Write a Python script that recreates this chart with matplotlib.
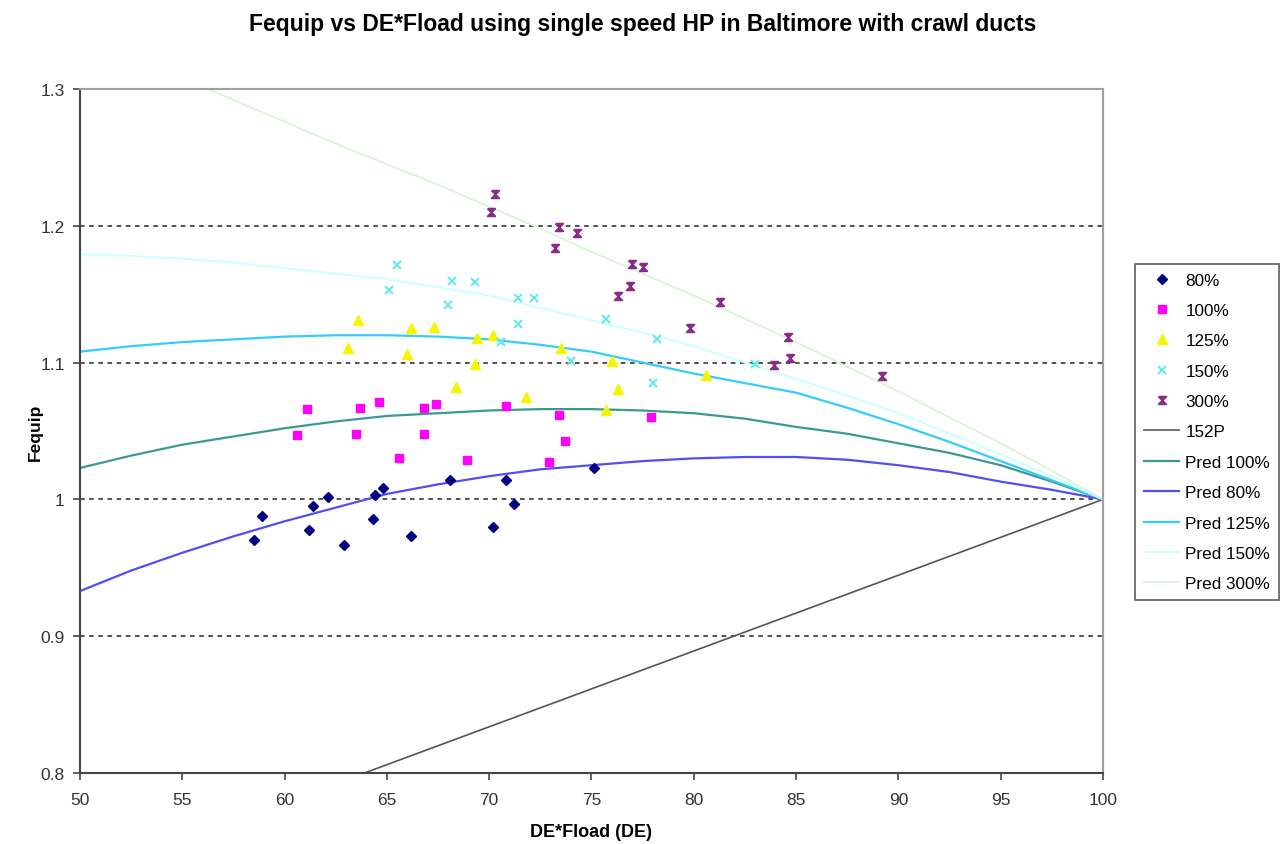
import numpy as np
import matplotlib
matplotlib.use("Agg")
import matplotlib.pyplot as plt
from matplotlib.path import Path

plt.rcParams['font.family'] = ['Liberation Sans', 'DejaVu Sans']

# ---------- measured points ----------
de_80 = [58.5, 58.9, 61.2, 61.4, 62.1, 62.9, 64.3, 64.4, 64.8, 66.2, 68.1, 70.2, 70.8, 71.2, 75.1]
fe_80 = [0.970, 0.988, 0.978, 0.995, 1.002, 0.967, 0.986, 1.003, 1.008, 0.973, 1.014, 0.980, 1.014, 0.997, 1.023]

de_100 = [60.6, 61.1, 63.5, 63.7, 64.6, 65.6, 66.8, 66.8, 67.4, 68.9, 70.8, 72.9, 73.4, 73.7, 77.9]
fe_100 = [1.047, 1.066, 1.048, 1.067, 1.071, 1.030, 1.048, 1.067, 1.070, 1.029, 1.068, 1.027, 1.062, 1.043, 1.060]

de_125 = [63.1, 63.6, 66.0, 66.2, 67.3, 68.4, 69.3, 69.4, 70.2, 71.8, 73.5, 75.7, 76.0, 76.3, 80.6]
fe_125 = [1.111, 1.131, 1.106, 1.125, 1.126, 1.082, 1.099, 1.118, 1.120, 1.075, 1.111, 1.065, 1.101, 1.081, 1.091]

de_150 = [65.1, 65.5, 68.0, 68.2, 69.3, 70.6, 71.4, 71.4, 72.2, 74.0, 75.7, 78.0, 78.2, 83.0]
fe_150 = [1.153, 1.171, 1.142, 1.160, 1.159, 1.115, 1.128, 1.147, 1.147, 1.101, 1.132, 1.085, 1.117, 1.099]

de_300 = [70.1, 70.3, 73.2, 73.4, 74.3, 76.3, 76.9, 77.0, 77.5, 79.8, 81.3, 83.9, 84.6, 84.7, 89.2]
fe_300 = [1.210, 1.223, 1.184, 1.199, 1.195, 1.149, 1.156, 1.172, 1.170, 1.125, 1.144, 1.098, 1.119, 1.103, 1.090]

# ---------- reference line and predictions ----------
de_152p = [50, 100]
fe_152p = [0.723, 1.0]

de_pred = [50, 52.5, 55, 57.5, 60, 62.5, 65, 67.5, 70, 72.5, 75,
           77.5, 80, 82.5, 85, 87.5, 90, 92.5, 95, 97.5, 100]
pred_80 = [0.933, 0.948, 0.961, 0.973, 0.984, 0.994, 1.004, 1.011, 1.017, 1.022, 1.025,
           1.028, 1.030, 1.031, 1.031, 1.029, 1.025, 1.020, 1.013, 1.007, 1.0]
pred_100 = [1.023, 1.032, 1.040, 1.046, 1.052, 1.057, 1.061, 1.063, 1.065, 1.066, 1.066,
            1.065, 1.063, 1.059, 1.053, 1.048, 1.041, 1.034, 1.025, 1.013, 1.0]
pred_125 = [1.108, 1.112, 1.115, 1.117, 1.119, 1.120, 1.120, 1.119, 1.117, 1.113, 1.108,
            1.100, 1.092, 1.085, 1.078, 1.067, 1.055, 1.042, 1.028, 1.014, 1.0]
pred_150 = [1.179, 1.178, 1.176, 1.173, 1.169, 1.165, 1.161, 1.155, 1.149, 1.140, 1.131,
            1.122, 1.112, 1.100, 1.088, 1.076, 1.063, 1.048, 1.033, 1.017, 1.0]
pred_300 = [1.343, 1.325, 1.308, 1.292, 1.276, 1.260, 1.245, 1.230, 1.214, 1.198, 1.181,
            1.165, 1.149, 1.132, 1.115, 1.097, 1.079, 1.060, 1.041, 1.021, 1.0]

# Excel style "star" marker: hourglass with a centre stroke
star = Path([(-1, 1), (1, 1), (-1, -1), (1, -1), (-1, 1), (0, 1), (0, -1)],
            [Path.MOVETO, Path.LINETO, Path.LINETO, Path.LINETO, Path.LINETO,
             Path.MOVETO, Path.LINETO])

fig = plt.figure(figsize=(12.86, 8.45), dpi=100)
ax = fig.add_axes([0.0622, 0.084, 0.7955, 0.8095])

l152, = ax.plot(de_152p, fe_152p, color='#555555', lw=1.2, label='152P')
lp100, = ax.plot(de_pred, pred_100, color='#3a9a90', lw=1.6, label='Pred 100%')
lp80, = ax.plot(de_pred, pred_80, color='#5050f0', lw=1.6, label='Pred 80%')
lp125, = ax.plot(de_pred, pred_125, color='#33ccff', lw=1.6, label='Pred 125%')
lp150, = ax.plot(de_pred, pred_150, color='#ccffff', lw=1.4, label='Pred 150%')
lp300, = ax.plot(de_pred, pred_300, color='#d8f5d4', lw=1.3, label='Pred 300%')

s80, = ax.plot(de_80, fe_80, ls='none', marker='D', ms=5.5, color='#000080', label='80%')
s100, = ax.plot(de_100, fe_100, ls='none', marker='s', ms=6, color='#ff00ff', label='100%')
s125, = ax.plot(de_125, fe_125, ls='none', marker='^', ms=7, color='#f5f500', label='125%')
s150, = ax.plot(de_150, fe_150, ls='none', marker='x', ms=6, mew=1.4, color='#5eeaea', label='150%')
s300, = ax.plot(de_300, fe_300, ls='none', marker=star, ms=5.5, mew=1.3, mfc='none',
                color='#8a2a8a', label='300%')

ax.set_xlim(50, 100)
ax.set_ylim(0.8, 1.3)
ax.set_xticks(np.arange(50, 101, 5))
ax.set_yticks([0.8, 0.9, 1.0, 1.1, 1.2, 1.3])
ax.set_yticklabels(['0.8', '0.9', '1', '1.1', '1.2', '1.3'])
for yv in [0.9, 1.0, 1.1, 1.2]:
    ax.axhline(yv, color='#222222', lw=1.1, ls=(0, (3, 3)), zorder=0.5)

for side in ['top', 'right']:
    ax.spines[side].set_color('#a0a0a0')
    ax.spines[side].set_linewidth(1.5)
for side in ['left', 'bottom']:
    ax.spines[side].set_color('#444444')
    ax.spines[side].set_linewidth(1.5)
ax.tick_params(direction='out', length=5, width=1.2, color='#444444',
               labelsize=12.5, labelcolor='#333333')
ax.tick_params(axis='x', pad=9)
ax.tick_params(axis='y', pad=6)

ax.set_xlabel('DE*Fload (DE)', fontsize=13, fontweight='bold', labelpad=11)
ax.set_ylabel('Fequip', fontsize=12.5, fontweight='bold', labelpad=-2)
fig.suptitle('Fequip vs DE*Fload using single speed HP in Baltimore with crawl ducts',
             fontsize=16.5, fontweight='bold', y=0.985)

handles = [s80, s100, s125, s150, s300, l152, lp100, lp80, lp125, lp150, lp300]
leg = fig.legend(handles=handles, loc='upper left', bbox_to_anchor=(0.8826, 0.6864),
                 fontsize=12.3, frameon=True, fancybox=False, edgecolor='#333333',
                 handlelength=2.1, handletextpad=0.35, labelspacing=0.9,
                 borderpad=0.5, borderaxespad=0)
leg.get_frame().set_linewidth(1.2)

fig.savefig('out.png', dpi=100)
